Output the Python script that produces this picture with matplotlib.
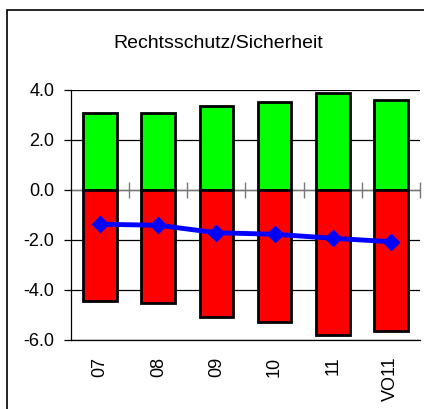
import matplotlib
matplotlib.use("Agg")
import matplotlib.pyplot as plt
import numpy as np

plt.rcParams['font.family'] = ['Liberation Sans', 'DejaVu Sans']

# data
kategorien = ["07", "08", "09", "10", "11", "VO11"]
positiv = [3.07, 3.07, 3.36, 3.52, 3.87, 3.60]
negativ = [-4.45, -4.51, -5.07, -5.29, -5.80, -5.65]
saldo = [-1.37, -1.41, -1.71, -1.77, -1.93, -2.07]
y_ticks = [4.0, 2.0, 0.0, -2.0, -4.0, -6.0]

fig = plt.figure(figsize=(4.24, 4.09), dpi=100)

# outer frame (cut at right and bottom like the source)
rahmen = plt.Rectangle((7 / 424, -0.1), 1.2, 1 - 10 / 409 + 0.1,
                       transform=fig.transFigure, fill=False,
                       edgecolor="black", linewidth=1.2)
fig.add_artist(rahmen)

fig.text(218 / 424, 1 - 43 / 409, "Rechtsschutz/Sicherheit",
         ha="center", va="center", fontsize=14)

ax = fig.add_axes([71 / 424, 1 - 340 / 409, 349 / 424, 250 / 409])

x = np.arange(len(kategorien))
for yv in y_ticks:
    ax.axhline(yv, color="black", linewidth=0.9, zorder=0)

ax.bar(x, positiv, width=0.58, color="#00ff00", edgecolor="black",
       linewidth=2.0, zorder=2)
ax.bar(x, negativ, width=0.58, color="#ff0000", edgecolor="black",
       linewidth=2.0, zorder=2)

# category axis at zero with boundary tick marks
grenzen = np.arange(len(kategorien)) + 0.5
ax.axhline(0, color="#777777", linewidth=0.9, zorder=1)
ax.plot(grenzen, np.zeros(len(grenzen)), linestyle="none", marker="|",
        markersize=11, color="#777777", markeredgewidth=1.0, zorder=1,
        clip_on=False)

ax.plot(x, saldo, color="#0000ff", linewidth=3.5, marker="D",
        markersize=8.5, zorder=3)

ax.set_xlim(-0.5, len(kategorien) - 0.5)
ax.set_ylim(-6, 4)
ax.set_yticks(y_ticks)
ax.set_yticklabels([f"{v:.1f}" for v in y_ticks], fontsize=13)
ax.set_xticks(x)
ax.set_xticklabels(kategorien, rotation=90, fontsize=13)
ax.tick_params(axis="y", length=5, width=0.9, pad=7)
ax.tick_params(axis="x", length=0, pad=12)

for s in ["right", "top"]:
    ax.spines[s].set_visible(False)
ax.spines["left"].set_linewidth(0.9)
ax.spines["bottom"].set_linewidth(0.9)

fig.savefig("out.png", dpi=100)
